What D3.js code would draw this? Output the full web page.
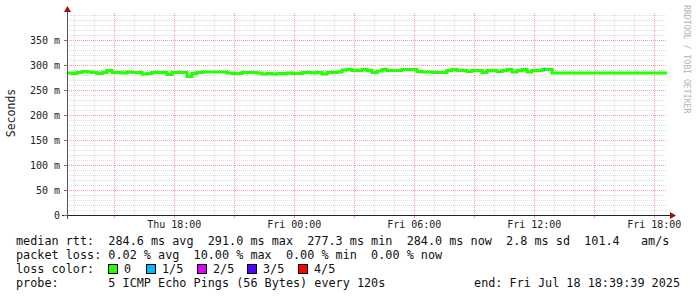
<!DOCTYPE html>
<html>
<head>
<meta charset="utf-8">
<script src="https://cdn.jsdelivr.net/npm/d3@7"></script>
<style>
  body { margin: 0; background: #fff; }
  svg { display: block; }
  text { font-family: "DejaVu Sans Mono", monospace; }
</style>
</head>
<body>
<div class="graph-container"></div>
<script>
// smokeping style graph, 30h window, one value every 15 minutes
const startTime = new Date(2025, 6, 17, 12, 39, 39);
const endTime = new Date(2025, 6, 18, 18, 39, 39);
const stepMinutes = 15;

// median rtt in ms
const medianRtt = [
  284, 283, 285, 287, 286, 285, 283, 285, 289, 285,
  285, 284, 286, 285, 285, 282, 283, 285, 285, 285,
  281, 285, 285, 285, 277.3, 283, 285, 286, 286, 286,
  286, 286, 284, 283, 283, 285, 285, 285, 284, 282,
  283, 282, 283, 283, 284, 283, 283, 285, 285, 284,
  285, 282, 285, 285, 286, 290, 291, 289, 289, 291,
  289, 285, 288, 291, 289, 289, 289, 291, 291, 291,
  287, 286, 286, 285, 285, 285, 289, 291, 289, 289,
  287, 289, 289, 285, 289, 289, 287, 289, 291, 286,
  289, 291, 286, 289, 289, 291, 291, 284, 284, 284,
  284, 284, 284, 284, 284, 284, 284, 284, 284, 284,
  284, 284, 284, 284, 284, 284, 284, 284, 284, 284
];

// the one moment with packet loss (1 of 5 pings)
const lossTimes = [new Date(2025, 6, 18, 12, 31, 0)];
const lossCounts = [1];

const yTicks = [0, 50, 100, 150, 200, 250, 300, 350];
const lossLabels = ["0", "1/5", "2/5", "3/5", "4/5"];
const lossColors = ["#26ff00", "#00b8ff", "#dd00ff", "#5500ff", "#ff0000"];

const legendLines = [
  "median rtt:  284.6 ms avg  291.0 ms max  277.3 ms min  284.0 ms now  2.8 ms sd  101.4   am/s",
  "packet loss: 0.02 % avg  10.00 % max  0.00 % min  0.00 % now"
];
const probeText = "probe:       5 ICMP Echo Pings (56 Bytes) every 120s";
const endText = "end: Fri Jul 18 18:39:39 2025";

function graph() {
  const dims = { width: 697, height: 297 };
  const plot = { left: 67, right: 667, top: 15, bottom: 215 };

  const svg = d3.select("div.graph-container")
    .append("svg")
    .attr("width", dims.width)
    .attr("height", dims.height);

  const x = d3.scaleTime().domain([startTime, endTime]).range([plot.left, plot.right]);
  const y = d3.scaleLinear().domain([0, 400]).range([plot.bottom, plot.top]);

  const grid = svg.append("g").attr("shape-rendering", "crispEdges");
  const majorCol = "#ff9a9a", minorCol = "#dedede";

  // grid: minor gray every 10 m / 1 h, major red every 50 m / 3 h
  d3.range(10, 410, 10).forEach(v => {
    grid.append("line")
      .attr("x1", plot.left).attr("x2", plot.right)
      .attr("y1", Math.round(y(v)) + 0.5).attr("y2", Math.round(y(v)) + 0.5)
      .attr("stroke", v % 50 === 0 && v < 400 ? majorCol : minorCol)
      .attr("stroke-dasharray", "1,1");
  });
  x.ticks(d3.timeHour.every(1)).forEach(t => {
    const major = t.getHours() % 3 === 0;
    grid.append("line")
      .attr("x1", Math.round(x(t)) + 0.5).attr("x2", Math.round(x(t)) + 0.5)
      .attr("y1", plot.top - 2).attr("y2", plot.bottom)
      .attr("stroke", major ? majorCol : minorCol)
      .attr("stroke-dasharray", "1,1");
    if (major) {
      grid.append("line")
        .attr("x1", Math.round(x(t)) + 0.5).attr("x2", Math.round(x(t)) + 0.5)
        .attr("y1", plot.bottom).attr("y2", plot.bottom + 3)
        .attr("stroke", majorCol);
    }
  });

  // the median line
  const pts = medianRtt.map((v, i) => ({ t: d3.timeMinute.offset(startTime, i * stepMinutes), v }));
  pts.push({ t: endTime, v: medianRtt[medianRtt.length - 1] });

  const line = d3.line()
    .x(d => x(d.t))
    .y(d => y(d.v))
    .curve(d3.curveStepAfter);

  svg.append("path")
    .datum(pts)
    .attr("d", line)
    .attr("fill", "none")
    .attr("stroke", lossColors[0])
    .attr("stroke-width", 3.2);

  // loss marks
  lossTimes.forEach((t, i) => {
    const idx = Math.floor((t - startTime) / (stepMinutes * 60000));
    svg.append("line")
      .attr("x1", Math.round(x(t)) + 0.5).attr("x2", Math.round(x(t)) + 0.5)
      .attr("y1", y(medianRtt[idx]) - 2).attr("y2", y(medianRtt[idx]) + 2)
      .attr("stroke", lossColors[lossCounts[i]])
      .attr("stroke-width", 1.2);
  });

  // axes
  const axes = svg.append("g").attr("shape-rendering", "crispEdges");
  axes.append("line")
    .attr("x1", plot.left - 5).attr("x2", plot.right + 4)
    .attr("y1", plot.bottom + 0.5).attr("y2", plot.bottom + 0.5)
    .attr("stroke", "#222");
  axes.append("line")
    .attr("x1", plot.left + 0.5).attr("x2", plot.left + 0.5)
    .attr("y1", plot.bottom + 4).attr("y2", plot.top - 4)
    .attr("stroke", "#555");

  yTicks.forEach(v => {
    axes.append("line")
      .attr("x1", plot.left - 3).attr("x2", plot.left)
      .attr("y1", Math.round(y(v)) + 0.5).attr("y2", Math.round(y(v)) + 0.5)
      .attr("stroke", "#777");
  });

  svg.append("path")
    .attr("d", `M${plot.left - 3},${plot.top - 3}L${plot.left + 0.5},${plot.top - 9}L${plot.left + 4},${plot.top - 3}Z`)
    .attr("fill", "#a01010");
  svg.append("path")
    .attr("d", `M${plot.right + 3},${plot.bottom - 3}L${plot.right + 9},${plot.bottom + 0.5}L${plot.right + 3},${plot.bottom + 4}Z`)
    .attr("fill", "#a01010");

  // tick labels
  svg.append("g").selectAll("text")
    .data(yTicks)
    .join("text")
    .attr("x", 60)
    .attr("y", d => y(d) + 3.5)
    .attr("text-anchor", "end")
    .attr("font-size", "10px")
    .attr("fill", "#222")
    .text(d => d === 0 ? "0" : d + " m");

  const labelFmt = d3.timeFormat("%a %H:%M");
  svg.append("g").selectAll("text")
    .data(x.ticks(d3.timeHour.every(6)))
    .join("text")
    .attr("x", d => x(d) + 0.5)
    .attr("y", 228)
    .attr("text-anchor", "middle")
    .attr("font-size", "10px")
    .attr("fill", "#222")
    .text(d => labelFmt(d));

  svg.append("text")
    .attr("transform", "translate(15,113) rotate(-90)")
    .attr("text-anchor", "middle")
    .attr("font-size", "11.5px")
    .attr("fill", "#222")
    .text("Seconds");

  svg.append("text")
    .attr("transform", "translate(684,5) rotate(90)")
    .attr("font-size", "8.2px")
    .attr("fill", "#b4b4b4")
    .text("RRDTOOL / TOBI OETIKER");

  // legend
  const legend = svg.append("g")
    .attr("font-size", "11.8px")
    .attr("fill", "#111");

  legendLines.forEach((s, i) => {
    legend.append("text")
      .attr("x", 16).attr("y", 245 + i * 14)
      .attr("xml:space", "preserve")
      .style("white-space", "pre")
      .text(s);
  });

  legend.append("text").attr("x", 16).attr("y", 273).text("loss color:");
  const boxX = [108, 146, 197, 247, 298];
  lossLabels.forEach((l, i) => {
    legend.append("rect")
      .attr("x", boxX[i] + 0.5).attr("y", 264.5)
      .attr("width", 9).attr("height", 9)
      .attr("fill", lossColors[i])
      .attr("stroke", "#000")
      .attr("shape-rendering", "crispEdges");
    legend.append("text").attr("x", boxX[i] + 16).attr("y", 273).text(l);
  });

  legend.append("text")
    .attr("x", 16).attr("y", 287)
    .attr("xml:space", "preserve")
    .style("white-space", "pre")
    .text(probeText);
  legend.append("text")
    .attr("x", 680).attr("y", 287)
    .attr("text-anchor", "end")
    .text(endText);
}

graph();
</script>
</body>
</html>
